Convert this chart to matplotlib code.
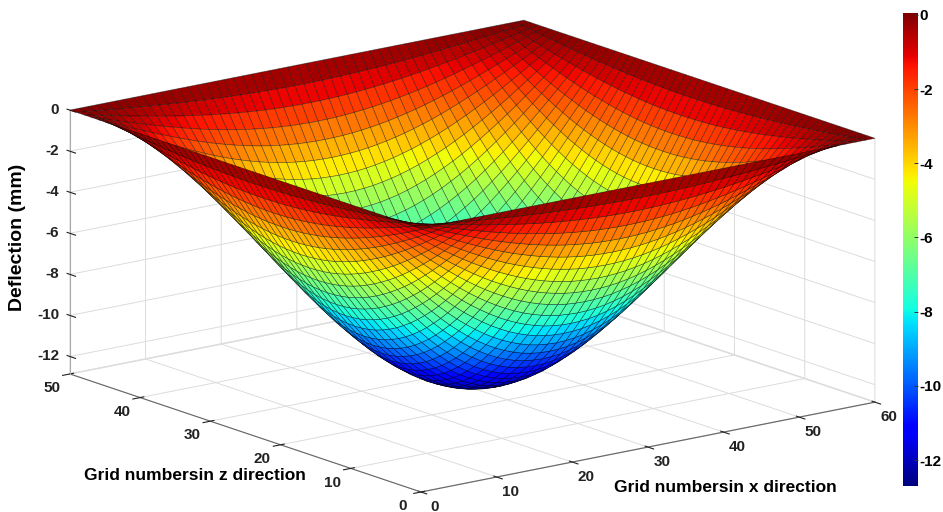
import numpy as np
from matplotlib import pyplot as plt
from matplotlib import cm
from matplotlib.colors import Normalize
from mpl_toolkits.mplot3d.proj3d import proj_transform

plt.rcParams['font.family'] = ['Liberation Sans', 'DejaVu Sans']
plt.rcParams['font.weight'] = 'bold'
plt.rcParams['axes.unicode_minus'] = False
plt.rcParams['grid.color'] = '#dcdcdc'
plt.rcParams['grid.linewidth'] = 0.7

# deflection (mm) read along the middle line of the plate, one half and mirrored
half_profile = [0.0, -0.80, -1.59, -2.38, -3.16, -3.92, -4.67, -5.41, -6.12, -6.80, -7.46, -8.09, -8.69,
                -9.26, -9.79, -10.27, -10.72, -11.13, -11.49, -11.81, -12.08, -12.30, -12.48, -12.60,
                -12.67, -12.70]
x_nodes = np.linspace(0, 60, 51)
z_nodes = np.linspace(0, 50, 51)
x_ticks = [0, 10, 20, 30, 40, 50, 60]
z_ticks = [0, 10, 20, 30, 40, 50]
d_ticks = [0, -2, -4, -6, -8, -10, -12]

profile = np.array(half_profile + half_profile[-2::-1])
deflection = np.outer(profile, profile) / profile.min()

floor = -12.85
W, H = 943, 512

fig = plt.figure(figsize=(9.43, 5.12), dpi=100)
ax = fig.add_axes([-28.5 / W, -244 / H, 1000 / W, 1000 / H], projection='3d')
ax.patch.set_alpha(0)
ax.set_proj_type('ortho')
ax.view_init(elev=14.95, azim=-127.5)
ax.set_xlim(0, 60, view_margin=0)
ax.set_ylim(0, 50, view_margin=0)
ax.set_zlim(floor, 0, view_margin=0)
box = (572, 576.6, 273)
ax.set_box_aspect(box)

norm = Normalize(vmin=-12.7, vmax=0.05)
X, Y = np.meshgrid(x_nodes, z_nodes, indexing='ij')
ax.plot_surface(X, Y, deflection, rstride=1, cstride=1, cmap='jet', norm=norm,
                edgecolor=(0, 0, 0, 0.5), linewidth=0.45, shade=False, antialiased=True)

ax.set_xticks(x_ticks)
ax.set_yticks(z_ticks)
ax.set_zticks(d_ticks)
ax.tick_params(axis='both', labelsize=11, colors='#222222')
ax.tick_params(axis='x', pad=7)
ax.tick_params(axis='y', pad=7)
ax.tick_params(axis='z', pad=-3)
# ticks of the vertical axis run along the z grid direction, as in the reference
ax.zaxis._get_tickdir = lambda pos: 1
for label in ax.get_xticklabels() + ax.get_yticklabels():
    label.set_va('center')
for label in ax.get_zticklabels():
    label.set_va('center')
    label.set_ha('right')
for axis in (ax.xaxis, ax.yaxis, ax.zaxis):
    axis.pane.set_facecolor('white')
    axis.pane.set_edgecolor('#d0d0d0')
    axis.line.set_color('#666666')
ax.zaxis.line.set_color('#aaaaaa')


# fit the floor corners onto their pixel positions in the reference
def corner(x, y, z):
    return ax.transData.transform(proj_transform(x, y, z, ax.get_proj())[:2])


fig.canvas.draw()
span = corner(60, 0, floor)[0] - corner(0, 50, floor)[0]
ax.set_box_aspect(box, zoom=(875 - 70) / span)
fig.canvas.draw()
front = corner(0, 0, floor)
pos = ax.get_position()
ax.set_position([pos.x0 + (421 - front[0]) / W, pos.y0 + (H - 492 - front[1]) / H, pos.width, pos.height])

fig.text(18 / W, 1 - 237 / H, 'Deflection (mm)', rotation=90, ha='center', va='center', fontsize=14)
fig.text(195 / W, 1 - 475 / H, 'Grid numbersin z direction', ha='center', va='center', fontsize=12.5)
fig.text(725 / W, 1 - 487 / H, 'Grid numbersin x direction', ha='center', va='center', fontsize=12.5)

# colorbar
cax = fig.add_axes([902.5 / W, 1 - 486 / H, 15.5 / W, 473 / H])
cbar = fig.colorbar(cm.ScalarMappable(norm=norm, cmap='jet'), cax=cax, ticks=d_ticks)
cbar.outline.set_visible(False)
cbar.ax.tick_params(length=3, width=0.7, direction='in', pad=1, labelsize=11, color='#333333')

fig.savefig('out.png', dpi=100)
